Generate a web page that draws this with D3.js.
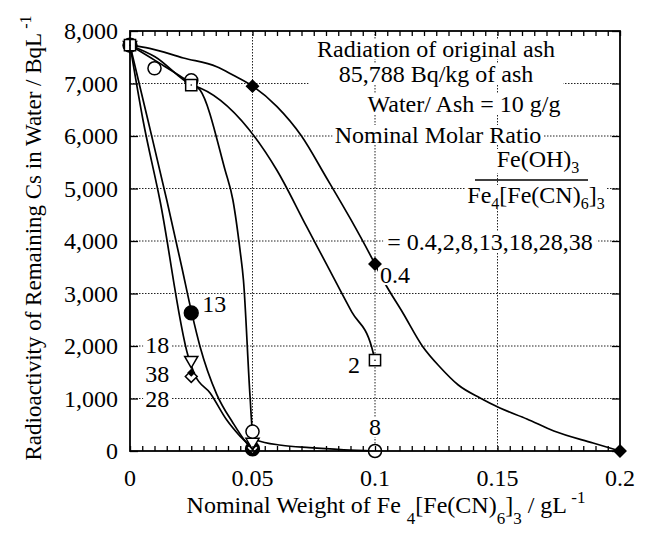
<!DOCTYPE html>
<html>
<head>
<meta charset="utf-8">
<script src="https://cdn.jsdelivr.net/npm/d3@7"></script>
<style>
  body { margin: 0; background: #fff; }
  text { font-family: "Liberation Serif", "Times New Roman", serif; fill: #000; }
</style>
</head>
<body>
<svg width="647" height="533"></svg>
<script>
// measured points, nominal molar ratio Fe(OH)3 / Fe4[Fe(CN)6]3
var ratios = ["0.4", "2", "8", "13", "18", "28", "38"];

var dose04 = [0, 0.05, 0.1, 0.2],            act04 = [7730, 6950, 3560, 0];
var dose2  = [0, 0.025, 0.1],                act2  = [7730, 6970, 1730];
var dose8  = [0, 0.01, 0.025, 0.05, 0.1],    act8  = [7730, 7290, 7060, 370, 0];
var dose13 = [0, 0.025, 0.05],               act13 = [7730, 2630, 40];
var dose18 = [0, 0.025, 0.05],               act18 = [7730, 1730, 170];
var dose28 = [0, 0.025, 0.05],               act28 = [7730, 1420, 60];
var dose38 = [0, 0.025, 0.05],               act38 = [7730, 1490, 90];

// smoothed curves
var fit04X = [0, 0.008, 0.0218, 0.0354, 0.042, 0.05, 0.06, 0.07, 0.08, 0.09, 0.1, 0.1033, 0.1114, 0.1196, 0.1265, 0.134, 0.1429, 0.151, 0.162, 0.173, 0.189, 0.2];
var fit04Y = [7730, 7670, 7486, 7320, 7162, 6952, 6560, 6000, 5220, 4420, 3560, 3257, 2629, 1981, 1600, 1257, 1010, 819, 610, 381, 152, 0];
var fit2X  = [0, 0.0102, 0.0252, 0.0286, 0.0599, 0.0721, 0.0803, 0.0905, 0.0986, 0.1];
var fit2Y  = [7730, 7510, 6970, 6914, 5352, 4272, 3550, 2650, 1987, 1730];
var fit8X  = [0, 0.0102, 0.025, 0.0286, 0.0388, 0.042, 0.0449, 0.0463, 0.049, 0.05, 0.0515, 0.0618, 0.0732, 0.0873, 0.1];
var fit8Y  = [7730, 7440, 7000, 6876, 5352, 4781, 3829, 3257, 1034, 370, 210, 110, 63, 23, 0];
var fit13X = [0, 0.0073, 0.015, 0.0211, 0.0252, 0.0286, 0.0354, 0.0421, 0.0476, 0.05];
var fit13Y = [7730, 6305, 4781, 3510, 2630, 1987, 1080, 530, 152, 30];
var fitLoX = [0, 0.0053, 0.0122, 0.0238, 0.0265, 0.0327, 0.0395, 0.045, 0.049, 0.05];
var fitLoY = [7730, 6305, 4781, 1796, 1448, 1105, 590, 276, 80, 0];

var xTicks = [0, 0.05, 0.1, 0.15, 0.2];
var yTicks = [0, 1000, 2000, 3000, 4000, 5000, 6000, 7000, 8000];

var svg = d3.select("svg");
var pLeft = 130, pRight = 620, pTop = 31, pBottom = 451;

var x = d3.scaleLinear().domain([0, 0.2]).range([pLeft, pRight]);
var y = d3.scaleLinear().domain([0, 8000]).range([pBottom, pTop]);

function zip(xs, ys) { return xs.map(function(d, i) { return [d, ys[i]]; }); }

// dotted grid
var grid = svg.append("g").attr("stroke", "#222").attr("stroke-width", 1).attr("stroke-dasharray", "1.5,1.5");
grid.selectAll("line.h").data(yTicks.slice(1, -1)).enter().append("line")
    .attr("x1", pLeft).attr("x2", pRight)
    .attr("y1", function(d) { return y(d); }).attr("y2", function(d) { return y(d); });
grid.selectAll("line.v").data(xTicks.slice(1, -1)).enter().append("line")
    .attr("y1", pTop).attr("y2", pBottom)
    .attr("x1", function(d) { return x(d); }).attr("x2", function(d) { return x(d); });

// curves
var line = d3.line()
    .x(function(d) { return x(d[0]); })
    .y(function(d) { return y(d[1]); })
    .curve(d3.curveMonotoneX);

var fits = [zip(fit04X, fit04Y), zip(fit2X, fit2Y), zip(fit8X, fit8Y), zip(fit13X, fit13Y), zip(fitLoX, fitLoY)];
svg.append("g").selectAll("path").data(fits).enter().append("path")
    .attr("d", line)
    .attr("fill", "none")
    .attr("stroke", "#000")
    .attr("stroke-width", 1.7);

// labels with white boxes (they break the grid)
function label(px, py, parts, anchor, pad) {
    var g = svg.append("g");
    var t = g.append("text").attr("x", px).attr("y", py)
        .attr("text-anchor", anchor || "start").style("font-size", "24px");
    parts.forEach(function(p) {
        var s = t.append("tspan").text(p.t);
        if (p.sub) s.attr("dy", 6).style("font-size", "16px");
        if (p.back) s.attr("dy", p.back);
    });
    var b = t.node().getBBox();
    pad = pad || 2;
    g.insert("rect", "text")
        .attr("x", b.x - pad).attr("y", b.y + 3)
        .attr("width", b.width + 2 * pad).attr("height", b.height - 6)
        .attr("fill", "#fff");
    return g;
}

label(436, 57, [{t: "Radiation of original ash"}], "middle", 12);
label(436, 82, [{t: "85,788 Bq/kg of ash"}], "middle", 30);
label(464, 112, [{t: "Water/ Ash = 10 g/g"}], "middle");
label(438, 143, [{t: "Nominal Molar Ratio"}], "middle");
label(538, 167, [{t: "Fe(OH)"}, {t: "3", sub: true}], "middle");
label(536, 203, [{t: "Fe"}, {t: "4", sub: true}, {t: "[Fe(CN)", back: -6}, {t: "6", sub: true}, {t: "]", back: -6}, {t: "3", sub: true}], "middle");
svg.append("line").attr("x1", 475).attr("x2", 588).attr("y1", 180).attr("y2", 180)
    .attr("stroke", "#000").attr("stroke-width", 1.3);
label(490, 250, [{t: "= 0.4,2,8,13,18,28,38"}], "middle", 4);

// ratio labels next to the markers
label(x(0.1) + 5, y(3560) + 19, [{t: ratios[0]}]);
label(x(0.1) - 15, y(1730) + 13, [{t: ratios[1]}], "end");
label(x(0.1), y(0) - 16, [{t: ratios[2]}], "middle");
label(x(0.025) + 11, y(2630) - 1, [{t: ratios[3]}]);
label(x(0.025) - 22, y(1730) - 7, [{t: ratios[4]}], "end");
label(x(0.025) - 22, y(1490) + 9, [{t: ratios[6]}], "end");
label(x(0.025) - 22, y(1420) + 31, [{t: ratios[5]}], "end");

// markers, filled ones first so the open ones stay readable
var marks = svg.append("g").attr("stroke", "#000").attr("stroke-width", 1.5);
function drawMarks(xs, ys, type, size, fill, rot) {
    marks.append("g").selectAll("path").data(zip(xs, ys)).enter().append("path")
        .attr("d", d3.symbol().type(type).size(size))
        .attr("transform", function(d) { return "translate(" + x(d[0]) + "," + y(d[1]) + ") rotate(" + (rot || 0) + ")"; })
        .attr("fill", fill);
}
drawMarks(dose13, act13, d3.symbolCircle, 150, "#000");
drawMarks(dose04, act04, d3.symbolSquare, 70, "#000", 45);
drawMarks(dose28, act28, d3.symbolSquare, 70, "#fff", 45);
drawMarks(dose38, act38, d3.symbolSquare, 18, "#000", 45);
drawMarks(dose18, act18, d3.symbolTriangle, 75, "#fff", 180);
drawMarks(dose8, act8, d3.symbolCircle, 135, "#fff");
drawMarks(dose2, act2, d3.symbolSquare, 125, "#fff");
marks.append("g").selectAll("circle").data(zip(dose2, act2)).enter().append("circle")
    .attr("cx", function(d) { return x(d[0]); }).attr("cy", function(d) { return y(d[1]); })
    .attr("r", 0.8).attr("fill", "#000").attr("stroke", "none");

// frame and ticks
var axes = svg.append("g");
axes.append("g").attr("transform", "translate(0," + pBottom + ")")
    .call(d3.axisBottom(x).tickValues(d3.range(0, 0.2001, 0.005)).tickSizeInner(-5).tickSizeOuter(0).tickFormat(""));
axes.append("g").attr("transform", "translate(0," + pTop + ")")
    .call(d3.axisTop(x).tickValues(d3.range(0, 0.2001, 0.005)).tickSizeInner(-5).tickSizeOuter(0).tickFormat(""));
axes.append("g").attr("transform", "translate(" + pLeft + ",0)")
    .call(d3.axisLeft(y).tickValues(yTicks).tickSizeInner(-8).tickSizeOuter(0).tickFormat(""));
axes.append("g").attr("transform", "translate(" + pRight + ",0)")
    .call(d3.axisRight(y).tickValues(yTicks).tickSizeInner(-8).tickSizeOuter(0).tickFormat(""));
axes.selectAll(".domain").remove();
axes.selectAll(".tick line").attr("stroke", "#000").attr("stroke-width", 1.3);
axes.append("rect").attr("x", pLeft).attr("y", pTop).attr("width", pRight - pLeft).attr("height", pBottom - pTop)
    .attr("fill", "none").attr("stroke", "#000").attr("stroke-width", 1.8);

// tick labels
svg.append("g").selectAll("text").data(xTicks).enter().append("text")
    .attr("x", function(d) { return x(d); }).attr("y", pBottom + 35)
    .attr("text-anchor", "middle").style("font-size", "24px")
    .text(function(d) { return String(d); });
svg.append("g").selectAll("text").data(yTicks).enter().append("text")
    .attr("x", pLeft - 12).attr("y", function(d) { return y(d) + 8; })
    .attr("text-anchor", "end").style("font-size", "24px")
    .text(d3.format(","));

// axis titles
var xt = svg.append("text").attr("x", 386).attr("y", 513).attr("text-anchor", "middle").style("font-size", "24px");
xt.append("tspan").text("Nominal Weight of Fe ");
xt.append("tspan").text("4").attr("dy", 11).style("font-size", "17px");
xt.append("tspan").text("[Fe(CN)").attr("dy", -11);
xt.append("tspan").text("6").attr("dy", 11).style("font-size", "17px");
xt.append("tspan").text("]").attr("dy", -11);
xt.append("tspan").text("3").attr("dy", 11).style("font-size", "17px");
xt.append("tspan").text(" / gL").attr("dy", -11);
xt.append("tspan").text(" -1").attr("dy", -10).style("font-size", "17px");

var yt = svg.append("text").attr("transform", "translate(41,238) rotate(-90)")
    .attr("text-anchor", "middle").style("font-size", "23px");
yt.append("tspan").text("Radioactivity of Remaining Cs in Water / BqL");
yt.append("tspan").text(" -1").attr("dy", -10).style("font-size", "16px");
</script>
</body>
</html>
